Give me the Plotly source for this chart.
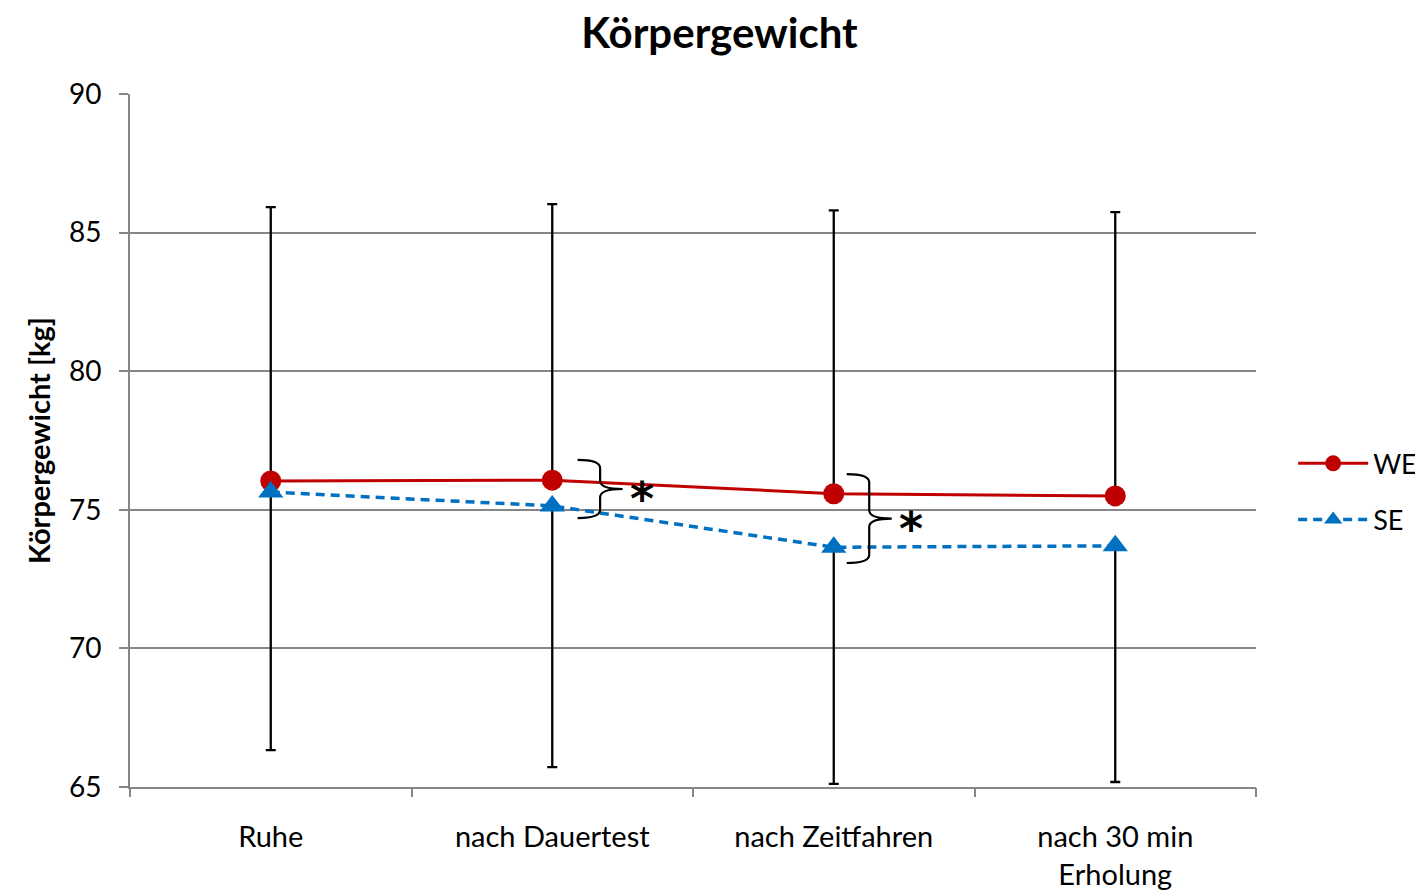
import plotly.graph_objects as go

categories = ["Ruhe", "nach Dauertest", "nach Zeitfahren", "nach 30 min<br>Erholung"]
we_values = [76.04, 76.07, 75.58, 75.50]
se_values = [75.64, 75.14, 73.65, 73.70]
we_err_plus = [9.88, 9.96, 10.22, 10.24]
se_err_minus = [9.31, 9.42, 8.54, 8.52]

# significance brackets: (x-start, y-top, y-bottom)
brackets = [(1.09, 76.80, 74.70), (2.046, 76.29, 73.08)]

x_idx = list(range(len(categories)))

fig = go.Figure()
fig.add_trace(go.Scatter(
    x=x_idx, y=we_values, name="WE", mode="lines+markers", legendgroup="we",
    line=dict(color="#C00000", width=3),
    marker=dict(symbol="circle", size=21, color="#C00000"),
    error_y=dict(type="data", symmetric=False, array=we_err_plus,
                 arrayminus=[0] * 4, color="black", thickness=2.3, width=5),
))
fig.add_trace(go.Scatter(
    x=x_idx, y=se_values, name="SE", mode="lines+markers", legendgroup="se",
    line=dict(color="#0070C0", width=3.5, dash="9px,6px"),
    marker=dict(symbol="triangle-up", size=22, color="#0070C0"),
    error_y=dict(type="data", symmetric=False, array=[0] * 4,
                 arrayminus=se_err_minus, color="black", thickness=2.3, width=5),
))

# ticks at category boundaries via an overlaying axis
fig.add_trace(go.Scatter(x=[-0.5, 3.5], y=[None, None], xaxis="x2",
                         showlegend=False, hoverinfo="skip"))

shapes = []
annotations = []
for (x0, yt, yb) in brackets:
    x1 = x0 + 0.08
    tip = x1 + 0.08
    mid = (yt + yb) / 2
    r = 0.3
    path = (f"M {x0},{yt} Q {x1},{yt} {x1},{yt - r} L {x1},{mid + r} "
            f"Q {x1},{mid} {tip},{mid} Q {x1},{mid} {x1},{mid - r} "
            f"L {x1},{yb + r} Q {x1},{yb} {x0},{yb}")
    shapes.append(dict(type="path", path=path, xref="x", yref="y",
                       line=dict(color="black", width=2.2)))
    annotations.append(dict(x=tip + 0.068, y=mid - 0.05, text="<b>*</b>", showarrow=False,
                            xref="x", yref="y", yanchor="middle", yshift=-9,
                            font=dict(size=46, color="black", family="DejaVu Sans")))

fig.update_layout(
    width=1423, height=894,
    paper_bgcolor="white", plot_bgcolor="white",
    margin=dict(l=122, r=175, t=86, b=115, autoexpand=False),
    font=dict(family="Lato, Open Sans, sans-serif", color="black"),
    title=dict(text="<b>Körpergewicht</b>", x=0.5, xanchor="center",
               y=0.972, yanchor="middle", font=dict(size=42, color="black")),
    xaxis=dict(range=[-0.5, 3.5], tickmode="array", tickvals=x_idx,
               ticktext=categories, showgrid=False, zeroline=False,
               showline=True, linecolor="#868686", linewidth=2,
               ticks="", tickfont=dict(size=29), ticklabelstandoff=23),
    xaxis2=dict(range=[-0.5, 3.5], overlaying="x", side="bottom",
                tickmode="array", tickvals=[-0.5, 0.5, 1.5, 2.5, 3.5],
                showticklabels=False, ticks="outside", ticklen=9,
                tickcolor="#868686", tickwidth=2, showgrid=False,
                zeroline=False, showline=False, anchor="y"),
    yaxis=dict(range=[65, 90], tickvals=[65, 70, 75, 80, 85, 90],
               showgrid=True, gridcolor="#868686", gridwidth=1.5,
               zeroline=False, showline=True, linecolor="#868686", linewidth=2,
               ticks="outside", ticklen=9, tickcolor="#868686", tickwidth=2,
               tickfont=dict(size=28), ticklabelstandoff=12,
               title=dict(text="<b>Körpergewicht [kg]</b>", font=dict(size=29),
                          standoff=10)),
    legend=dict(x=1.033, y=0.426, xanchor="left", yanchor="middle",
                font=dict(size=27), itemwidth=70, tracegroupgap=18,
                bgcolor="rgba(0,0,0,0)"),
    shapes=shapes, annotations=annotations,
)

fig.write_html("out.html")
